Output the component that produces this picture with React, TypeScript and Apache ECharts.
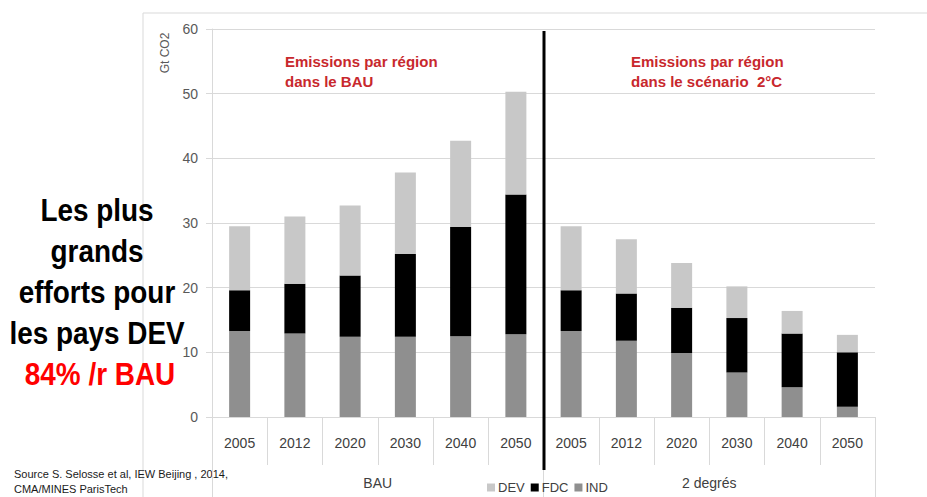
import React, { useEffect, useRef } from "react";
import * as echarts from "echarts";

// Emissions by region (Gt CO2), BAU vs 2°C scenario
const years = ["2005", "2012", "2020", "2030", "2040", "2050", "2005", "2012", "2020", "2030", "2040", "2050"];
const scenarios = ["BAU", "2 degrés"];
const ind = [13.3, 12.9, 12.4, 12.4, 12.5, 12.8, 13.3, 11.8, 9.9, 6.9, 4.6, 1.6];
const fdc = [6.3, 7.7, 9.5, 12.8, 16.9, 21.6, 6.3, 7.3, 7.0, 8.4, 8.3, 8.4];
const dev = [9.9, 10.4, 10.8, 12.6, 13.3, 15.9, 9.9, 8.4, 6.9, 4.9, 3.5, 2.7];
const yTicks = { min: 0, max: 60, interval: 10 };

const GRID = "#d9d9d9";
const RED_TITLE = "#c8282d";
const FONT = "'Liberation Sans', Arial, sans-serif";

export default function App() {
  const ref = useRef<HTMLDivElement>(null);

  useEffect(() => {
    document.body.style.margin = "0";
    const chart = echarts.init(ref.current!, null, { renderer: "svg" });

    const option: any = {
      animation: false,
      textStyle: { fontFamily: FONT },
      grid: { left: 212, right: 52, top: 29, bottom: 80 },
      legend: {
        data: ["DEV", "FDC", "IND"],
        left: 482,
        top: 476,
        icon: "rect",
        itemWidth: 8,
        itemHeight: 8,
        itemGap: 6,
        textStyle: { fontSize: 13, color: "#404040", fontFamily: FONT, padding: [0, 0, 0, -2] },
      },
      xAxis: [
        {
          type: "category",
          data: years,
          position: "bottom",
          axisLine: { show: true, lineStyle: { color: GRID } },
          axisTick: { show: true, interval: 0, length: 48, lineStyle: { color: GRID } },
          axisLabel: { interval: 0, margin: 19, fontSize: 14, color: "#404040" },
        },
        {
          type: "category",
          data: scenarios,
          position: "bottom",
          axisLine: { show: false },
          axisTick: { show: true, interval: 0, length: 80, lineStyle: { color: GRID } },
          axisLabel: { interval: 0, margin: 59, fontSize: 14, color: "#404040" },
        },
      ],
      yAxis: {
        type: "value",
        ...yTicks,
        axisLine: { show: true, lineStyle: { color: GRID } },
        axisTick: { show: true, length: 6, lineStyle: { color: GRID } },
        axisLabel: { fontSize: 14, color: "#595959", margin: 14 },
        splitLine: { lineStyle: { color: GRID } },
      },
      series: [
        { name: "IND", type: "bar", stack: "t", data: ind, barWidth: 21, itemStyle: { color: "#8f8f8f" } },
        { name: "FDC", type: "bar", stack: "t", data: fdc, barWidth: 21, itemStyle: { color: "#000000" } },
        { name: "DEV", type: "bar", stack: "t", data: dev, barWidth: 21, itemStyle: { color: "#c8c8c8" } },
      ],
    };
    chart.setOption(option);

    // Scenario separator sits on the boundary between the last BAU and first 2°C category
    const xa = chart.convertToPixel({ xAxisIndex: 0 }, 5) as number;
    const xb = chart.convertToPixel({ xAxisIndex: 0 }, 6) as number;
    const sepX = Math.round((xa + xb) / 2);

    const leftLines = ["Les plus", "grands", "efforts pour", "les pays DEV"];

    chart.setOption({
      graphic: [
        { type: "line", shape: { x1: 143, y1: 13, x2: 927, y2: 13 }, style: { stroke: GRID, lineWidth: 1 } },
        { type: "line", shape: { x1: 143, y1: 13, x2: 143, y2: 497 }, style: { stroke: GRID, lineWidth: 1 } },
        { type: "line", shape: { x1: sepX, y1: 31, x2: sepX, y2: 470 }, style: { stroke: "#000", lineWidth: 3 }, z: 100 },
        {
          type: "text",
          x: 165,
          y: 53,
          rotation: Math.PI / 2,
          style: { text: "Gt CO2", fontSize: 12, fill: "#595959", fontFamily: FONT, align: "center", verticalAlign: "middle" },
        },
        {
          type: "text",
          x: 285,
          y: 51,
          style: {
            text: "Emissions par région\ndans le BAU",
            fontSize: 15,
            fontWeight: "bold",
            lineHeight: 20,
            fill: RED_TITLE,
            fontFamily: FONT,
            align: "left",
            verticalAlign: "top",
          },
        },
        {
          type: "text",
          x: 631,
          y: 51,
          style: {
            text: "Emissions par région\ndans le scénario  2°C",
            fontSize: 15,
            fontWeight: "bold",
            lineHeight: 20,
            fill: RED_TITLE,
            fontFamily: FONT,
            align: "left",
            verticalAlign: "top",
          },
        },
        ...leftLines.map((t, i) => ({
          type: "text",
          x: 97,
          y: 225 + i * 41,
          scaleX: 0.9,
          style: { text: t, fontSize: 31, fontWeight: "bold", fill: "#000", fontFamily: FONT, align: "center", verticalAlign: "bottom" },
        })),
        {
          type: "text",
          x: 100,
          y: 389,
          scaleX: 0.9,
          style: { text: "84% /r BAU", fontSize: 31, fontWeight: "bold", fill: "#ff0000", fontFamily: FONT, align: "center", verticalAlign: "bottom" },
        },
        {
          type: "text",
          x: 14,
          y: 466,
          style: {
            text: "Source S. Selosse et al, IEW Beijing , 2014,\nCMA/MINES ParisTech",
            fontSize: 11,
            lineHeight: 15,
            fill: "#1a1a1a",
            fontFamily: FONT,
            align: "left",
            verticalAlign: "top",
          },
        },
      ],
    });

    return () => chart.dispose();
  }, []);

  return <div ref={ref} style={{ width: 927, height: 497 }} />;
}
